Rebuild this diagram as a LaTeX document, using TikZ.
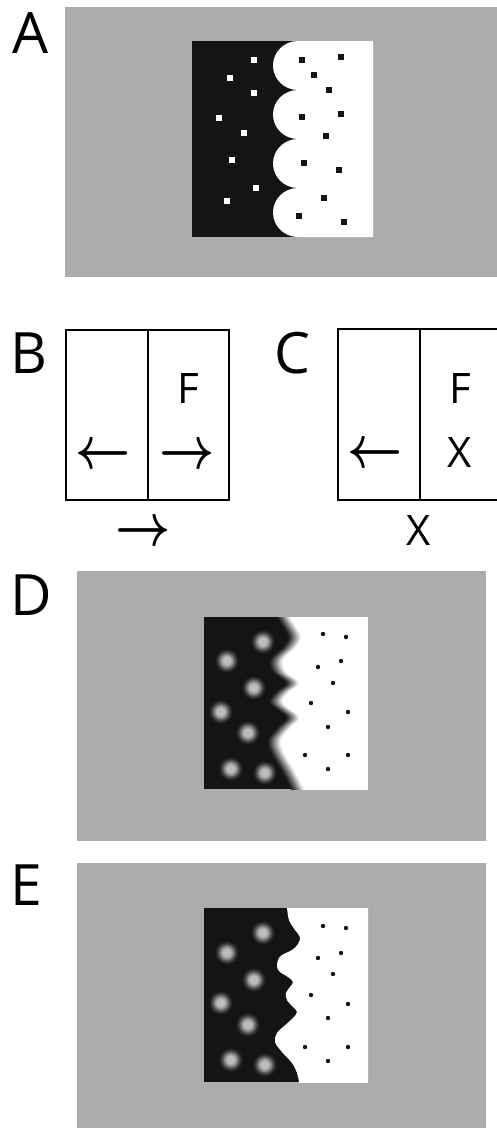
\documentclass[tikz,border=0pt]{standalone}
\usepackage{fix-cm}
\usepackage{graphicx}
\usepackage{fontspec}
\setmainfont{Open Sans}
\definecolor{bgray}{gray}{0.675}
\definecolor{ink}{gray}{0.08}
\definecolor{blobc}{gray}{0.74}
\tikzset{
  lbl/.style={anchor=base west, inner sep=0pt, font=\fontsize{57}{60}\selectfont},
  sym/.style={anchor=base, inner sep=0pt, font=\fontsize{42}{44}\selectfont},
  arr/.style={anchor=base, inner sep=0pt, font=\fontsize{48}{48}\selectfont\boldmath},
  frame/.style={draw=black, line width=2pt},
}
\newcommand{\ArrR}{\smash{\scalebox{1}[1.25]{$\rightarrow$}}}
\newcommand{\ArrL}{\smash{\scalebox{1}[1.25]{$\leftarrow$}}}
\newcommand{\blobat}[2]{%
  \foreach \r/\t in {12/4, 11/12, 10/22, 9/34, 8/48, 7/64, 6/80, 5/92, 4/100}
    \fill[blobc!\t!ink] (#1,#2) circle (\r);}
\begin{document}
\begin{tikzpicture}[x=1pt, y=-1pt]
\useasboundingbox (0,0) rectangle (496,1128);

% ---------------- Panel A ----------------
\node[lbl] (labA) at (12,53) {A};
\fill[bgray] (65,7) rectangle (497,277);
\fill[ink] (192,41) rectangle (373,237);
\fill[white] (298,41)
  arc[start angle=270, end angle=90, x radius=25, y radius=24.5]
  arc[start angle=270, end angle=90, x radius=25, y radius=24.5]
  arc[start angle=270, end angle=90, x radius=25, y radius=24.5]
  arc[start angle=270, end angle=90, x radius=25, y radius=24.5]
  -- (373,237) -- (373,41) -- cycle;
\foreach \x/\y in {254/60, 230/78, 254/93, 219/118, 244/133, 232/160, 256/188, 227/201}
  \fill[white] (\x-3,\y-3) rectangle (\x+3,\y+3);
\foreach \x/\y in {302/60, 341/57, 314/75, 329/90, 302/117, 341/114, 326/136, 304/163, 339/170, 324/198, 299/216, 344/222}
  \fill[ink] (\x-3,\y-3) rectangle (\x+3,\y+3);

% ---------------- Panel B ----------------
\node[lbl] (labB) at (10,373) {B};
\draw[frame] (66,330) rectangle (229,500);
\draw[frame] (148,330) -- (148,500);
\node[sym] (fB) at (188,403) {F};
\node[arr] (laB) at (103,468) {\ArrL};
\node[arr] (raB) at (187,468) {\ArrR};
\node[arr] (baB) at (143.5,545) {\ArrR};

% ---------------- Panel C ----------------
\node[lbl] (labC) at (274,373) {C};
\draw[frame] (338,329) rectangle (510,500);
\draw[frame] (419.5,329) -- (419.5,500);
\node[sym] (fC) at (460,403) {F};
\node[sym] (xC) at (459.5,467) {X};
\node[arr] (laC) at (375.5,467) {\ArrL};
\node[sym] (bxC) at (418.5,545) {X};

% ---------------- Panel D ----------------
\node[lbl] (labD) at (10,615) {D};
\fill[bgray] (77,571) rectangle (486,841);
\begin{scope}
  \clip (204,617) rectangle (368,789);
  \fill[ink] (204,617) rectangle (368,789);
  \foreach \x/\y in {263/642, 227/661, 254/688, 221/712, 248/733, 231/769, 265/773}
    {\blobat{\x}{\y}}
  \foreach \s/\g in {-7/4, -6/10, -5/16, -4/23, -3/30, -2/38, -1/46, 0/54, 1/62, 2/70, 3/78, 4/86, 5/93, 6/100}
    \fill[white!\g!ink, xshift=\s] (420,612) -- plot[smooth, tension=0.6] coordinates {
      (284,612) (284,617) (290,627) (295,637) (290,647) (277,660) (280,672) (293,683)
      (282,693) (277,703) (293,717) (285,727) (275,740) (278,753) (288,770) (298,789) (300,795)}
      -- (420,795) -- cycle;
\end{scope}
\foreach \x/\y in {323/634, 346/637, 341/661, 318/667, 333/683, 311/703, 348/712, 328/727, 305/755, 348/755, 328/769}
  \fill[ink] (\x,\y) circle (2.2);

% ---------------- Panel E ----------------
\node[lbl] (labE) at (10,905) {E};
\fill[bgray] (77,863) rectangle (486,1130);
\begin{scope}
  \clip (204,908) rectangle (368,1082);
  \fill[ink] (204,908) rectangle (368,1082);
  \foreach \x/\y in {263/933, 227/953, 254/980, 221/1003, 248/1025, 231/1060, 265/1065}
    {\blobat{\x}{\y}}
  \fill[white] (420,903) -- plot[smooth, tension=0.6] coordinates {
      (286,903) (287,908) (289,920) (295,930) (300,937) (298,944) (292,950) (282,955)
      (278,960) (277,967) (280,972) (288,977) (293,982) (290,987) (286,993) (287,1000)
      (293,1007) (297,1012) (293,1018) (283,1027) (277,1033) (275,1042) (282,1052)
      (292,1063) (297,1073) (299,1082) (300,1087)}
      -- (420,1087) -- cycle;
\end{scope}
\foreach \x/\y in {323/926, 346/928, 341/953, 318/958, 333/974, 311/995, 348/1004, 328/1018, 305/1047, 348/1047, 328/1061}
  \fill[ink] (\x,\y) circle (2.2);
\end{tikzpicture}
\end{document}
